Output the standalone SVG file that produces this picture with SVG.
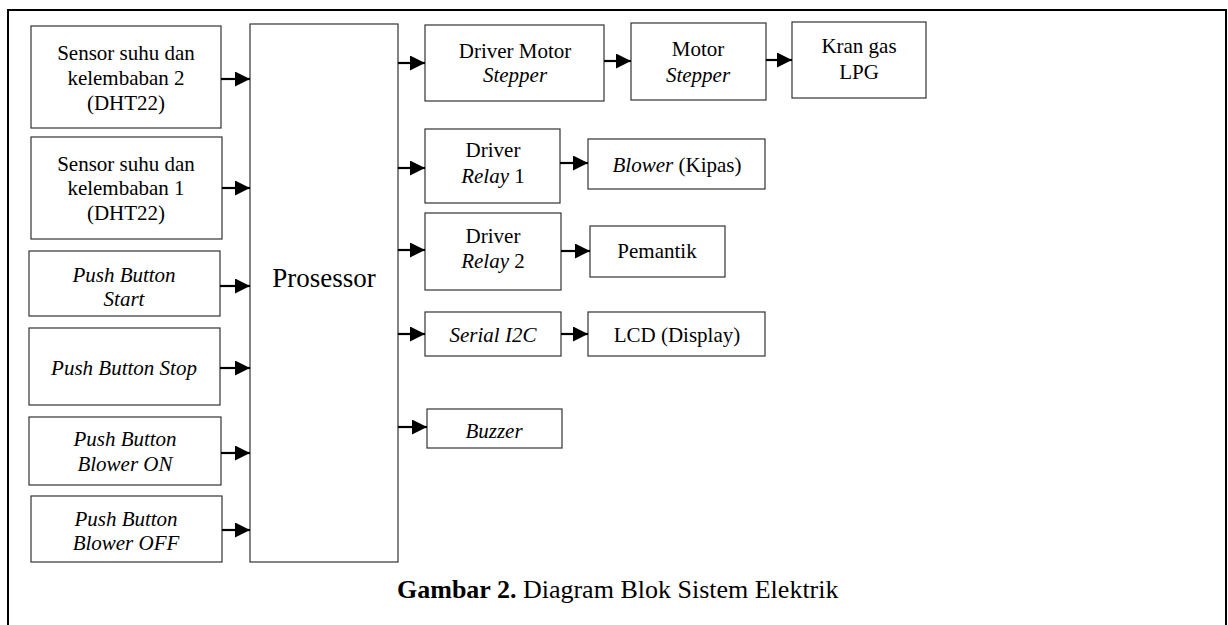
<svg xmlns="http://www.w3.org/2000/svg" width="1228" height="625" viewBox="0 0 1228 625">
<style>
.b{fill:#fff;stroke:#333;stroke-width:1.2}
.t{font-family:"Liberation Serif","Times New Roman",serif;font-size:21px;fill:#000;text-anchor:middle}
.i{font-style:italic}
.c{stroke:#000;stroke-width:2.2;fill:none}
</style>
<defs>
<marker id="ah" markerUnits="userSpaceOnUse" markerWidth="16" markerHeight="16" refX="15" refY="7.5" orient="auto">
<path d="M0,0 L15,7.5 L0,15 Z" fill="#000"/>
</marker>
</defs>
<rect width="1228" height="625" fill="#fff"/>
<path d="M8,640 L8,10 L1226,10 L1226,640" fill="none" stroke="#000" stroke-width="2"/>

<g id="sensor2"><rect class="b" x="31" y="26" width="190" height="102"/>
<text class="t" x="126" y="60">Sensor suhu dan</text><text class="t" x="126" y="85">kelembaban 2</text><text class="t" x="126" y="110">(DHT22)</text></g>
<g id="sensor1"><rect class="b" x="31" y="137" width="191" height="102"/>
<text class="t" x="126" y="171">Sensor suhu dan</text><text class="t" x="126" y="195">kelembaban 1</text><text class="t" x="126" y="220">(DHT22)</text></g>
<g id="pbstart"><rect class="b" x="29" y="251" width="191" height="65"/>
<text class="t i" x="124" y="282">Push Button</text><text class="t i" x="124" y="306">Start</text></g>
<g id="pbstop"><rect class="b" x="29" y="328" width="191" height="77"/>
<text class="t i" x="124" y="375">Push Button Stop</text></g>
<g id="pbon"><rect class="b" x="29" y="417" width="192" height="68"/>
<text class="t i" x="125" y="446">Push Button</text><text class="t i" x="125" y="471">Blower ON</text></g>
<g id="pboff"><rect class="b" x="31" y="496" width="191" height="66"/>
<text class="t i" x="126" y="526">Push Button</text><text class="t i" x="126" y="550">Blower OFF</text></g>
<g id="processor"><rect class="b" x="250" y="24" width="148" height="538"/>
<text class="t" x="324" y="287" style="font-size:27px">Prosessor</text></g>

<g id="drvmotor"><rect class="b" x="425" y="25" width="179" height="76"/>
<text class="t" x="515" y="58">Driver Motor</text><text class="t i" x="515" y="82">Stepper</text></g>
<g id="motor"><rect class="b" x="631" y="23" width="135" height="77"/>
<text class="t" x="698" y="56">Motor</text><text class="t i" x="698" y="82">Stepper</text></g>
<g id="kran"><rect class="b" x="792" y="22" width="134" height="76"/>
<text class="t" x="859" y="53">Kran gas</text><text class="t" x="859" y="79">LPG</text></g>
<g id="relay1"><rect class="b" x="425" y="129" width="135" height="74"/>
<text class="t" x="493" y="157">Driver</text><text class="t" x="493" y="183"><tspan class="i">Relay</tspan> 1</text></g>
<g id="blower"><rect class="b" x="588" y="139" width="177" height="50"/>
<text class="t" x="677" y="172"><tspan class="i">Blower</tspan> (Kipas)</text></g>
<g id="relay2"><rect class="b" x="425" y="213" width="136" height="77"/>
<text class="t" x="493" y="243">Driver</text><text class="t" x="493" y="268"><tspan class="i">Relay</tspan> 2</text></g>
<g id="pemantik"><rect class="b" x="590" y="226" width="135" height="51"/>
<text class="t" x="657" y="258">Pemantik</text></g>
<g id="serial"><rect class="b" x="425" y="312" width="136" height="44"/>
<text class="t i" x="493" y="342">Serial I2C</text></g>
<g id="lcd"><rect class="b" x="588" y="312" width="177" height="44"/>
<text class="t" x="677" y="342">LCD (Display)</text></g>
<g id="buzzer"><rect class="b" x="427" y="409" width="135" height="39"/>
<text class="t i" x="494" y="438">Buzzer</text></g>

<g id="connectors">
<path class="c" marker-end="url(#ah)" d="M221,79 H250"/>
<path class="c" marker-end="url(#ah)" d="M222,188 H250"/>
<path class="c" marker-end="url(#ah)" d="M220,286 H250"/>
<path class="c" marker-end="url(#ah)" d="M220,368 H250"/>
<path class="c" marker-end="url(#ah)" d="M221,453 H250"/>
<path class="c" marker-end="url(#ah)" d="M222,530 H250"/>
<path class="c" marker-end="url(#ah)" d="M398,63 H425"/>
<path class="c" marker-end="url(#ah)" d="M398,168 H425"/>
<path class="c" marker-end="url(#ah)" d="M398,250 H425"/>
<path class="c" marker-end="url(#ah)" d="M398,334 H425"/>
<path class="c" marker-end="url(#ah)" d="M398,427 H427"/>
<path class="c" marker-end="url(#ah)" d="M604,61 H631"/>
<path class="c" marker-end="url(#ah)" d="M766,60 H792"/>
<path class="c" marker-end="url(#ah)" d="M560,163 H588"/>
<path class="c" marker-end="url(#ah)" d="M561,251 H590"/>
<path class="c" marker-end="url(#ah)" d="M561,334 H588"/>
</g>

<text x="397" y="598" style="font-family:'Liberation Serif','Times New Roman',serif;font-size:26px;fill:#000"><tspan font-weight="bold">Gambar 2.</tspan> Diagram Blok Sistem Elektrik</text>
</svg>
